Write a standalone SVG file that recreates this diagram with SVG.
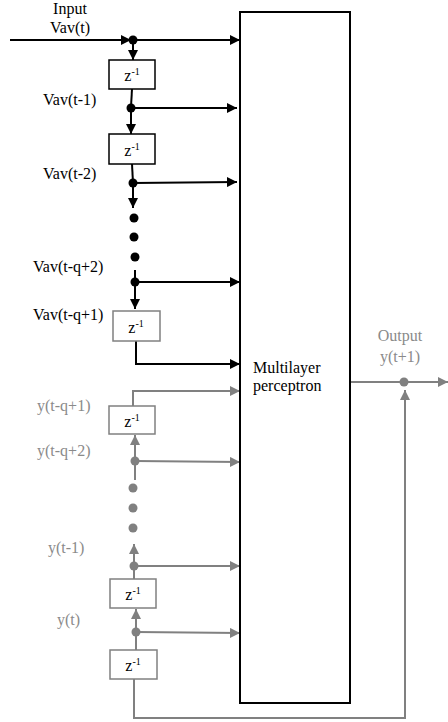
<svg xmlns="http://www.w3.org/2000/svg" width="448" height="722" viewBox="0 0 448 722">
<defs>
<style>
.t{font-family:'Liberation Serif',serif;font-size:16px;fill:#000}
.tg{font-family:'Liberation Serif',serif;font-size:16px;fill:#8a8a8a}
.z{font-family:'Liberation Serif',serif;font-size:16px;fill:#000}
.bk{stroke:#000;stroke-width:2;fill:none}
.gy{stroke:#808080;stroke-width:2;fill:none}
.boxk{stroke:#000;stroke-width:1.5;fill:#fff}
.boxg{stroke:#808080;stroke-width:1.5;fill:#fff}
</style>
<marker id="ak" viewBox="0 0 10 10" refX="10" refY="5" markerWidth="10" markerHeight="10" markerUnits="userSpaceOnUse" orient="auto"><path d="M0,0 L10,5 L0,10 z" fill="#000"/></marker>
<marker id="ag" viewBox="0 0 10 10" refX="10" refY="5" markerWidth="10" markerHeight="10" markerUnits="userSpaceOnUse" orient="auto"><path d="M0,0 L10,5 L0,10 z" fill="#808080"/></marker>
</defs>

<g id="connectors">
<path class="bk" d="M10,40 L131,40" marker-end="url(#ak)"/>
<path class="bk" d="M133,40 L240,40" marker-end="url(#ak)"/>
<path class="bk" d="M133,40 L133,60" marker-end="url(#ak)"/>
<path class="bk" d="M132,89 L131,107"/>
<path class="bk" d="M131,108 L237,108" marker-end="url(#ak)"/>
<path class="bk" d="M131,108 L131,134" marker-end="url(#ak)"/>
<path class="bk" d="M132,164 L133,183"/>
<path class="bk" d="M133,183 L237,182" marker-end="url(#ak)"/>
<path class="bk" d="M133,183 L133,208" marker-end="url(#ak)"/>
<path class="bk" d="M135,270 L135,282"/>
<path class="bk" d="M135,282 L240,282" marker-end="url(#ak)"/>
<path class="bk" d="M135,282 L135,309" marker-end="url(#ak)"/>
<path class="bk" d="M136,341 L136,364 L240,364" marker-end="url(#ak)"/>
<path class="gy" d="M133,406 L133,391 L240,391" marker-end="url(#ag)"/>
<path class="gy" d="M135,480 L135,461"/>
<path class="gy" d="M135,461 L135,435" marker-end="url(#ag)"/>
<path class="gy" d="M135,461 L240,462" marker-end="url(#ag)"/>
<path class="gy" d="M134,579 L134,566"/>
<path class="gy" d="M134,566 L134,544" marker-end="url(#ag)"/>
<path class="gy" d="M134,566 L240,566" marker-end="url(#ag)"/>
<path class="gy" d="M136,650 L136,632"/>
<path class="gy" d="M136,632 L136,609" marker-end="url(#ag)"/>
<path class="gy" d="M136,632 L240,633" marker-end="url(#ag)"/>
<path class="gy" d="M134,679 L134,718 L405,718 L405,390" marker-end="url(#ag)"/>
<path class="gy" d="M350,382 L448,382" marker-end="url(#ag)"/>
</g>

<g id="dots">
<circle cx="133" cy="40" r="4.5" fill="#000"/>
<circle cx="131" cy="108" r="4.5" fill="#000"/>
<circle cx="133" cy="183" r="4.5" fill="#000"/>
<circle cx="134" cy="218" r="4.5" fill="#000"/>
<circle cx="134" cy="237" r="4.5" fill="#000"/>
<circle cx="135" cy="257" r="4.5" fill="#000"/>
<circle cx="135" cy="282" r="4.5" fill="#000"/>
<circle cx="135" cy="461" r="4.5" fill="#808080"/>
<circle cx="133" cy="488" r="4.5" fill="#808080"/>
<circle cx="133" cy="508" r="4.5" fill="#808080"/>
<circle cx="133" cy="528" r="4.5" fill="#808080"/>
<circle cx="134" cy="566" r="4.5" fill="#808080"/>
<circle cx="136" cy="632" r="4.5" fill="#808080"/>
<circle cx="404" cy="382" r="4.5" fill="#808080"/>
</g>

<g id="mlp">
<rect x="240" y="12" width="110" height="691" fill="#fff" stroke="#000" stroke-width="2"/>
<text class="t" x="253" y="373">Multilayer</text>
<text class="t" x="253" y="391">perceptron</text>
</g>

<g id="z1"><rect class="boxk" x="109" y="60" width="46" height="29"/><text class="z" x="132" y="81" text-anchor="middle">z<tspan font-size="10" dy="-6">-1</tspan></text></g>
<g id="z2"><rect class="boxk" x="109" y="134" width="46" height="30"/><text class="z" x="132" y="156" text-anchor="middle">z<tspan font-size="10" dy="-6">-1</tspan></text></g>
<g id="z3"><rect class="boxg" x="113" y="311" width="47" height="30"/><text class="z" x="136" y="333" text-anchor="middle">z<tspan font-size="10" dy="-6">-1</tspan></text></g>
<g id="z4"><rect class="boxg" x="109" y="406" width="46" height="28"/><text class="z" x="132" y="427" text-anchor="middle">z<tspan font-size="10" dy="-6">-1</tspan></text></g>
<g id="z5"><rect class="boxg" x="110" y="579" width="46" height="29"/><text class="z" x="133" y="600" text-anchor="middle">z<tspan font-size="10" dy="-6">-1</tspan></text></g>
<g id="z6"><rect class="boxg" x="110" y="650" width="47" height="29"/><text class="z" x="133" y="671" text-anchor="middle">z<tspan font-size="10" dy="-6">-1</tspan></text></g>

<g id="labels">
<text class="t" x="70" y="14" text-anchor="middle">Input</text>
<text class="t" x="70" y="33" text-anchor="middle">Vav(t)</text>
<text class="t" x="43" y="105">Vav(t-1)</text>
<text class="t" x="43" y="179">Vav(t-2)</text>
<text class="t" x="33" y="272">Vav(t-q+2)</text>
<text class="t" x="33" y="320">Vav(t-q+1)</text>
<text class="tg" x="37" y="411">y(t-q+1)</text>
<text class="tg" x="37" y="456">y(t-q+2)</text>
<text class="tg" x="48" y="553">y(t-1)</text>
<text class="tg" x="57" y="625">y(t)</text>
<text class="tg" x="400" y="341" text-anchor="middle">Output</text>
<text class="tg" x="400" y="362" text-anchor="middle">y(t+1)</text>
</g>
</svg>
